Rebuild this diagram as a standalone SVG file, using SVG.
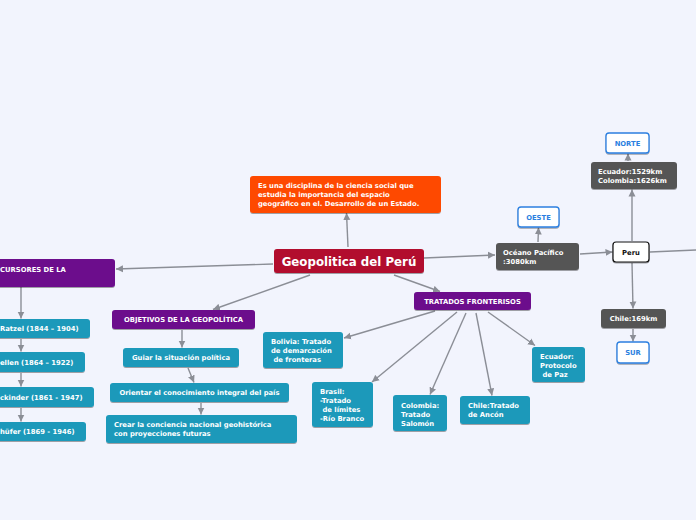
<svg xmlns="http://www.w3.org/2000/svg" width="696" height="520" viewBox="0 0 696 520">
<style>
text{font-family:"DejaVu Sans","Verdana",sans-serif;font-weight:bold;fill:#fff;font-size:6.8px}
.c{text-anchor:middle}
.teal{fill:#1a99ba}
.purple{fill:#6c0a8c}
.dark{fill:#555555}
.blue{fill:#fff;stroke:#2b7fe0;stroke-width:1.3}
.bt{fill:#2b7fe0}
.conn line{stroke:#8b8e96;stroke-width:1.4;fill:none}
rect{filter:url(#sh)}
</style>
<defs>
<filter id="sh" x="-10%" y="-20%" width="120%" height="150%">
<feDropShadow dx="0" dy="1" stdDeviation="0.7" flood-color="#000" flood-opacity="0.35"/>
</filter>
<marker id="a" markerUnits="userSpaceOnUse" markerWidth="8" markerHeight="8" refX="7" refY="4" orient="auto">
<path d="M0,0.5 L7,4 L0,7.5 z" fill="#8b8e96"/>
</marker>
</defs>
<rect width="696" height="520" fill="#f2f4fd" style="filter:none"/>

<g class="conn">
<line x1="348" y1="247" x2="346.5" y2="213" marker-end="url(#a)"/>
<line x1="273" y1="264" x2="116" y2="269" marker-end="url(#a)"/>
<line x1="310" y1="275" x2="213" y2="309.5" marker-end="url(#a)"/>
<line x1="394" y1="275" x2="440" y2="291.5" marker-end="url(#a)"/>
<line x1="424" y1="258" x2="495" y2="255" marker-end="url(#a)"/>
<line x1="580" y1="254" x2="612.5" y2="252" marker-end="url(#a)"/>
<line x1="650" y1="252" x2="696" y2="250"/>
<line x1="632" y1="241" x2="632" y2="189.5" marker-end="url(#a)"/>
<line x1="628" y1="161" x2="628" y2="153.5" marker-end="url(#a)"/>
<line x1="538" y1="242" x2="538.5" y2="227.5" marker-end="url(#a)"/>
<line x1="632" y1="263" x2="633" y2="308.5" marker-end="url(#a)"/>
<line x1="633" y1="329" x2="633" y2="341.5" marker-end="url(#a)"/>
<line x1="21" y1="287" x2="21" y2="318.5" marker-end="url(#a)"/>
<line x1="21" y1="339" x2="21" y2="351.5" marker-end="url(#a)"/>
<line x1="21" y1="373" x2="21" y2="386.5" marker-end="url(#a)"/>
<line x1="21" y1="408" x2="21" y2="421.5" marker-end="url(#a)"/>
<line x1="182" y1="330" x2="182" y2="347.5" marker-end="url(#a)"/>
<line x1="188" y1="368" x2="194" y2="382.5" marker-end="url(#a)"/>
<line x1="201" y1="403" x2="201" y2="414.5" marker-end="url(#a)"/>
<line x1="435" y1="311" x2="344" y2="338" marker-end="url(#a)"/>
<line x1="457" y1="312" x2="372" y2="382" marker-end="url(#a)"/>
<line x1="466" y1="313" x2="430" y2="394.5" marker-end="url(#a)"/>
<line x1="476" y1="313" x2="492" y2="395.5" marker-end="url(#a)"/>
<line x1="488" y1="312" x2="535" y2="345.5" marker-end="url(#a)"/>
</g>

<g id="central">
<rect x="274" y="249" width="150" height="24" rx="3" fill="#b2102f"/>
<text x="349" y="265.5" class="c" style="font-size:11.8px">Geopolitica del Perú</text>
</g>

<g id="definicion">
<rect x="250" y="176" width="191" height="37" rx="3" fill="#fe4a00"/>
<text x="258" y="188">Es una disciplina de la ciencia social que</text>
<text x="258" y="197">estudia la importancia del espacio</text>
<text x="258" y="206">geográfico en el. Desarrollo de un Estado.</text>
</g>

<g id="precursores">
<rect x="-10" y="259" width="125" height="28" rx="3" class="purple"/>
<text x="0" y="271.5">CURSORES DE LA</text>
</g>
<g id="ratzel">
<rect x="-10" y="319" width="100" height="19" rx="3" class="teal"/>
<text x="0" y="331">Ratzel (1844 – 1904)</text>
</g>
<g id="kjellen">
<rect x="-10" y="352" width="95" height="20" rx="3" class="teal"/>
<text x="0" y="364.5">ellen (1864 – 1922)</text>
</g>
<g id="mackinder">
<rect x="-10" y="387" width="104" height="20" rx="3" class="teal"/>
<text x="0" y="399.5">ckinder (1861 - 1947)</text>
</g>
<g id="haushofer">
<rect x="-10" y="422" width="96" height="19" rx="3" class="teal"/>
<text x="0" y="434">hüfer (1869 - 1946)</text>
</g>

<g id="objetivos">
<rect x="112" y="310" width="143" height="19" rx="3" class="purple"/>
<text x="183.5" y="322" class="c">OBJETIVOS DE LA GEOPOLÍTICA</text>
</g>
<g id="guiar">
<rect x="123" y="348" width="116" height="19" rx="3" class="teal"/>
<text x="181" y="360" class="c">Guiar la situación política</text>
</g>
<g id="orientar">
<rect x="110" y="383" width="179" height="19" rx="3" class="teal"/>
<text x="199.5" y="395" class="c">Orientar el conocimiento integral del país</text>
</g>
<g id="crear">
<rect x="106" y="415" width="191" height="28" rx="3" class="teal"/>
<text x="114" y="427">Crear la conciencia nacional geohistórica</text>
<text x="114" y="436">con proyecciones futuras</text>
</g>

<g id="tratados">
<rect x="414" y="292" width="117" height="18" rx="3" class="purple"/>
<text x="472.5" y="303.5" class="c">TRATADOS FRONTERISOS</text>
</g>
<g id="bolivia">
<rect x="263" y="332" width="80" height="36" rx="3" class="teal"/>
<text x="271" y="344">Bolivia: Tratado</text>
<text x="271" y="353">de demarcación</text>
<text x="273.5" y="362">de fronteras</text>
</g>
<g id="brasil">
<rect x="312" y="382" width="61" height="45" rx="3" class="teal"/>
<text x="320" y="394">Brasil:</text>
<text x="320" y="403">-Tratado</text>
<text x="322.5" y="412">de límites</text>
<text x="320" y="421">-Río Branco</text>
</g>
<g id="colombia">
<rect x="393" y="395" width="54" height="36" rx="3" class="teal"/>
<text x="401" y="407.5">Colombia:</text>
<text x="401" y="416.5">Tratado</text>
<text x="401" y="425.5">Salomón</text>
</g>
<g id="chile">
<rect x="460" y="396" width="70" height="28" rx="3" class="teal"/>
<text x="468" y="408">Chile:Tratado</text>
<text x="468" y="417">de Ancón</text>
</g>
<g id="ecuador">
<rect x="532" y="347" width="53" height="35" rx="3" class="teal"/>
<text x="540" y="359">Ecuador:</text>
<text x="540" y="368">Protocolo</text>
<text x="542.5" y="377">de Paz</text>
</g>

<g id="oceano">
<rect x="496" y="243" width="83" height="27" rx="3" class="dark"/>
<text x="503" y="255">Océano Pacífico</text>
<text x="503" y="264">:3080km</text>
</g>
<g id="oeste">
<rect x="518" y="207" width="41" height="20" rx="3" class="blue"/>
<text x="538.5" y="219.5" class="c bt">OESTE</text>
</g>
<g id="peru">
<rect x="613" y="242" width="36" height="20" rx="3" fill="#fff" stroke="#111" stroke-width="1.2"/>
<text x="631" y="254.5" class="c" style="fill:#111">Peru</text>
</g>
<g id="norte-km">
<rect x="591" y="162" width="86" height="27" rx="3" class="dark"/>
<text x="598" y="174">Ecuador:1529km</text>
<text x="598" y="183">Colombia:1626km</text>
</g>
<g id="norte">
<rect x="606" y="133" width="43" height="20" rx="3" class="blue"/>
<text x="627.5" y="145.5" class="c bt">NORTE</text>
</g>
<g id="sur-km">
<rect x="601" y="309" width="65" height="19" rx="3" class="dark"/>
<text x="633.5" y="321" class="c">Chile:169km</text>
</g>
<g id="sur">
<rect x="617" y="342" width="32" height="21" rx="3" class="blue"/>
<text x="633" y="355" class="c bt">SUR</text>
</g>
</svg>
